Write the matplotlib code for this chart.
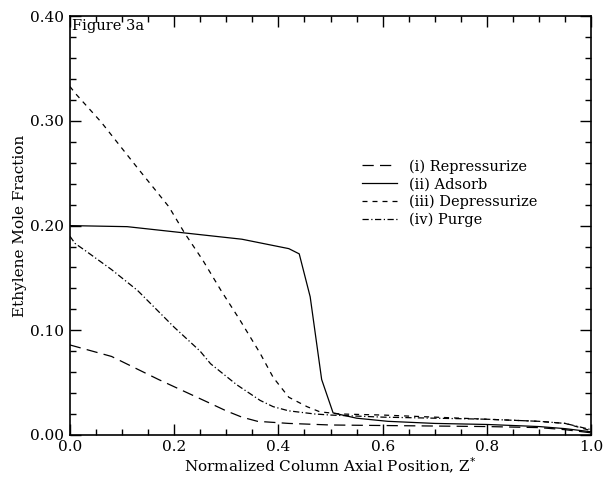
import matplotlib.pyplot as plt
from matplotlib.ticker import MultipleLocator, FormatStrFormatter

plt.rcParams['font.family'] = ['DejaVu Serif']

# (i) Repressurize
z_rep = [0, 0.08, 0.17, 0.27, 0.30, 0.33, 0.36, 0.42, 0.50, 0.60, 0.70, 0.80, 0.90, 0.95, 1.0]
y_rep = [0.086, 0.075, 0.053, 0.030, 0.023, 0.017, 0.013, 0.011, 0.0095, 0.009, 0.0085, 0.008, 0.007, 0.005, 0.002]

# (ii) Adsorb
z_ads = [0, 0.11, 0.22, 0.33, 0.37, 0.42, 0.44, 0.461, 0.483, 0.505, 0.55, 0.61, 0.70, 0.80, 0.90, 0.95, 1.0]
y_ads = [0.200, 0.199, 0.193, 0.187, 0.183, 0.178, 0.173, 0.132, 0.053, 0.021, 0.016, 0.013, 0.011, 0.010, 0.008, 0.006, 0.003]

# (iii) Depressurize
z_dep = [0, 0.013, 0.06, 0.13, 0.19, 0.22, 0.255, 0.29, 0.326, 0.365, 0.39, 0.42, 0.455, 0.48, 0.52, 0.60, 0.70, 0.80, 0.90, 0.95, 1.0]
y_dep = [0.333, 0.325, 0.299, 0.255, 0.218, 0.193, 0.167, 0.138, 0.110, 0.078, 0.055, 0.036, 0.027, 0.022, 0.020, 0.019, 0.017, 0.015, 0.013, 0.011, 0.004]

# (iv) Purge
z_pur = [0, 0.01, 0.03, 0.08, 0.13, 0.20, 0.25, 0.27, 0.32, 0.365, 0.39, 0.42, 0.47, 0.50, 0.60, 0.70, 0.80, 0.90, 0.95, 1.0]
y_pur = [0.190, 0.183, 0.176, 0.158, 0.138, 0.103, 0.080, 0.068, 0.048, 0.033, 0.027, 0.023, 0.020, 0.019, 0.017, 0.016, 0.015, 0.013, 0.011, 0.005]

fig = plt.figure(figsize=(6.07, 4.79), dpi=100)
ax = fig.add_axes([0.115, 0.092, 0.859, 0.874])

lw = 0.9
ax.plot(z_rep, y_rep, color='black', lw=lw, dashes=(9, 5), label='(i) Repressurize')
ax.plot(z_ads, y_ads, color='black', lw=lw, label='(ii) Adsorb')
ax.plot(z_dep, y_dep, color='black', lw=lw, dashes=(4, 4), label='(iii) Depressurize')
ax.plot(z_pur, y_pur, color='black', lw=lw, dashes=(5, 2, 1, 2), label='(iv) Purge')

ax.set_xlim(0, 1.0)
ax.set_ylim(0, 0.40)
ax.xaxis.set_major_locator(MultipleLocator(0.2))
ax.xaxis.set_minor_locator(MultipleLocator(0.05))
ax.yaxis.set_major_locator(MultipleLocator(0.1))
ax.yaxis.set_minor_locator(MultipleLocator(0.02))
ax.xaxis.set_major_formatter(FormatStrFormatter('%.1f'))
ax.yaxis.set_major_formatter(FormatStrFormatter('%.2f'))
ax.tick_params(which='both', direction='in', top=True, right=True, width=1.0)
ax.tick_params(which='major', length=8, labelsize=11, pad=4)
ax.tick_params(which='minor', length=4)
for s in ax.spines.values():
    s.set_linewidth(1.2)

ax.set_xlabel('Normalized Column Axial Position, Z$^{*}$', fontsize=11, labelpad=1)
ax.set_ylabel('Ethylene Mole Fraction', fontsize=11, labelpad=2)
ax.text(0.004, 0.993, 'Figure 3a', transform=ax.transAxes, ha='left', va='top', fontsize=10.5)

ax.legend(loc='upper left', bbox_to_anchor=(0.535, 0.69), frameon=False, fontsize=10.5,
          handlelength=2.4, handletextpad=0.8, labelspacing=0.25)

fig.savefig('out.png', dpi=100)
